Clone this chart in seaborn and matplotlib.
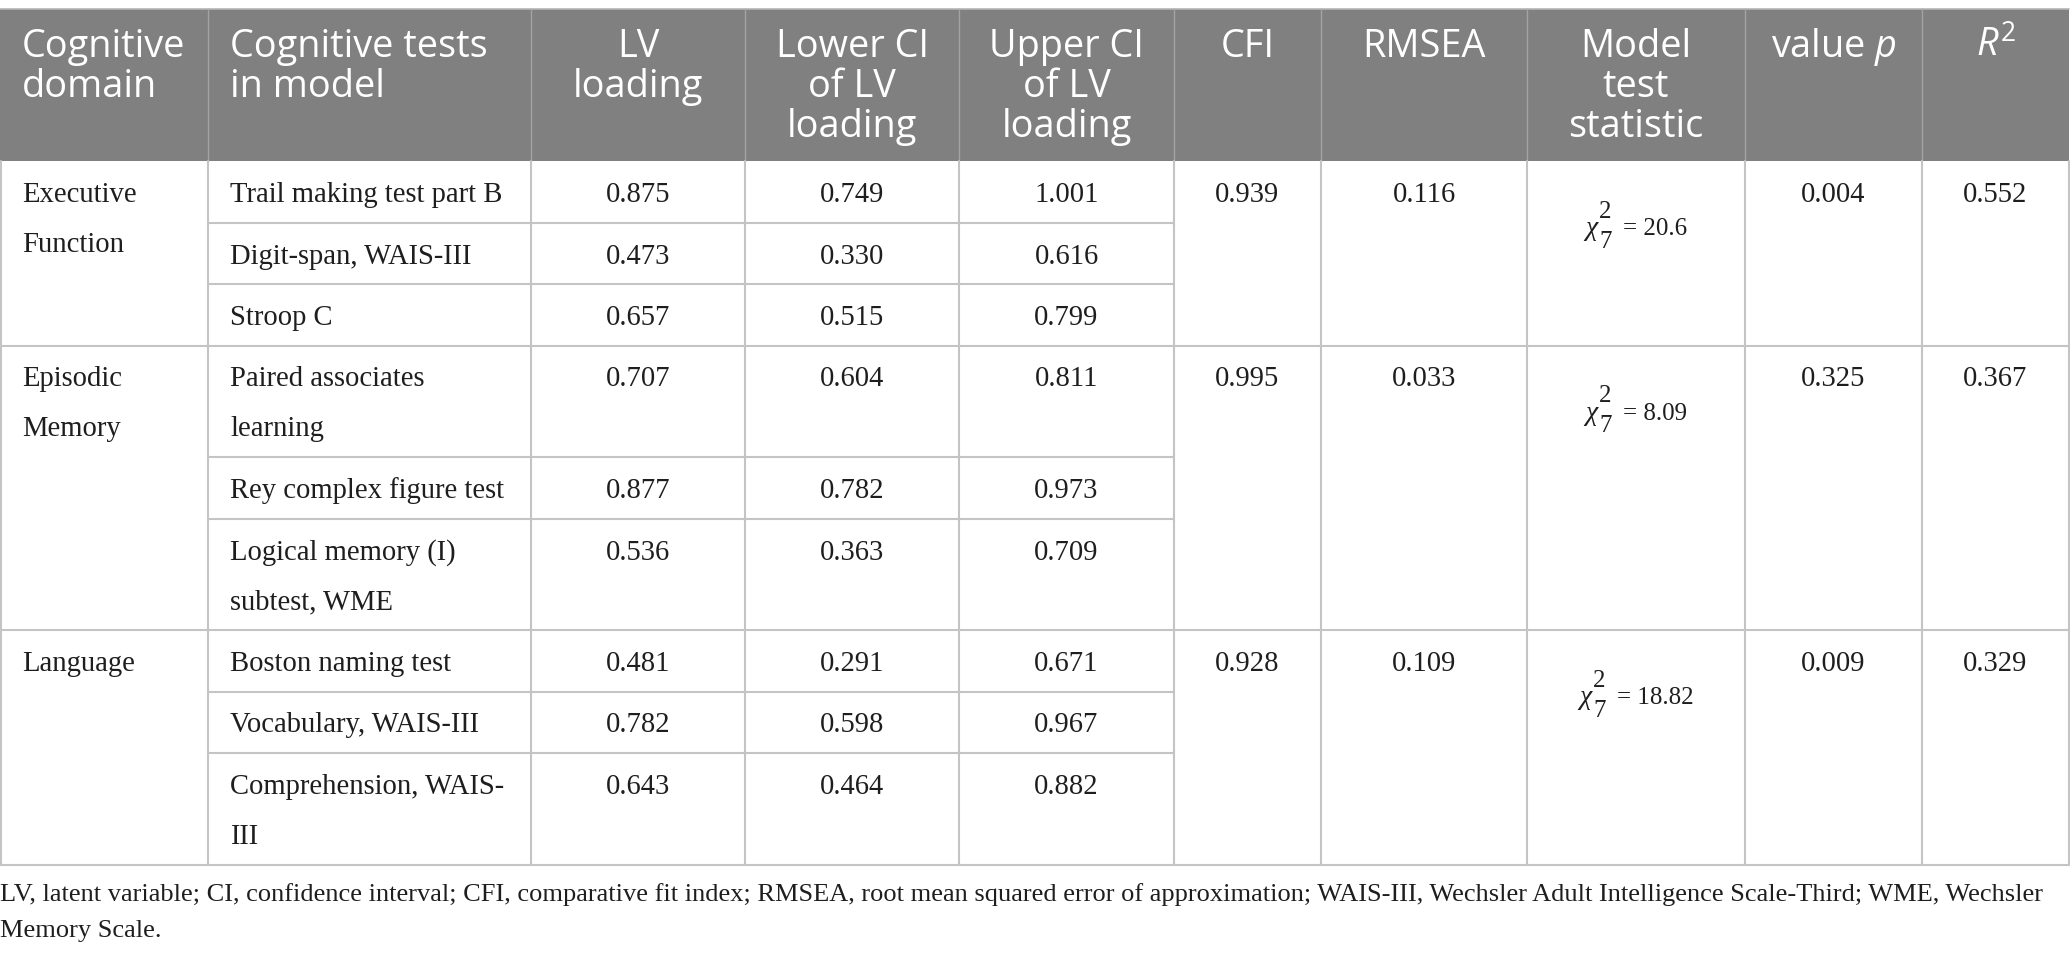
import matplotlib
matplotlib.use('Agg')
import matplotlib.pyplot as plt
import seaborn as sns

# Table content
headers = ['Cognitive\ndomain', 'Cognitive tests\nin model', 'LV\nloading',
           'Lower CI\nof LV\nloading', 'Upper CI\nof LV\nloading', 'CFI', 'RMSEA',
           'Model\ntest\nstatistic', 'value $p$', '$R^2$']
domains = ['Executive\nFunction', 'Episodic\nMemory', 'Language']
tests = [
    ['Trail making test part B', 'Digit-span, WAIS-III', 'Stroop C'],
    ['Paired associates\nlearning', 'Rey complex figure test', 'Logical memory (I)\nsubtest, WME'],
    ['Boston naming test', 'Vocabulary, WAIS-III', 'Comprehension, WAIS-\nIII'],
]
lv_loading = [[0.875, 0.473, 0.657], [0.707, 0.877, 0.536], [0.481, 0.782, 0.643]]
lower_ci = [[0.749, 0.330, 0.515], [0.604, 0.782, 0.363], [0.291, 0.598, 0.464]]
upper_ci = [[1.001, 0.616, 0.799], [0.811, 0.973, 0.709], [0.671, 0.967, 0.882]]
cfi = [0.939, 0.995, 0.928]
rmsea = [0.116, 0.033, 0.109]
chi_df = [7, 7, 7]
chi_stat = ['20.6', '8.09', '18.82']
p_value = [0.004, 0.325, 0.009]
r_squared = [0.552, 0.367, 0.329]
footnote = ['LV, latent variable; CI, confidence interval; CFI, comparative fit index; '
            'RMSEA, root mean squared error of approximation; WAIS-III, Wechsler Adult '
            'Intelligence Scale-Third; WME, Wechsler',
            'Memory Scale.']

sns.set_theme(style='white')
plt.rcParams['mathtext.fontset'] = 'custom'
plt.rcParams['mathtext.rm'] = 'Open Sans'
plt.rcParams['mathtext.it'] = 'Open Sans:italic'

# layout in pixels
W, H = 2070, 957
cols = [0, 208, 531, 745, 959, 1174, 1321, 1527, 1745, 1922, 2069]
head_top, head_bot = 9, 161
pad = 22
base_h, line_h = 61.5, 50

HEAD_BG = '#7f807f'
GRID = '#c4c4c4'
TXT = '#1e1e1e'
serif = 'Liberation Serif'
BODY_SIZE = 20.6

fig = plt.figure(figsize=(W / 100, H / 100), dpi=100)
ax = fig.add_axes([0, 0, 1, 1])
ax.set_xlim(0, W)
ax.set_ylim(H, 0)
ax.axis('off')
renderer = fig.canvas.get_renderer()

# header
ax.add_patch(plt.Rectangle((cols[0], head_top), cols[-1] - cols[0], head_bot - head_top,
                           facecolor=HEAD_BG, edgecolor='none'))
ax.plot([cols[0], cols[-1]], [head_top, head_top], color='#b5b5b5', lw=1.2)
for c in cols[1:-1]:
    ax.plot([c, c], [head_top, head_bot], color='#a3a3a3', lw=1.0)
for i, h in enumerate(headers):
    if i < 2:
        x, ha = cols[i] + pad, 'left'
    else:
        x, ha = (cols[i] + cols[i + 1]) / 2, 'center'
    for k, line in enumerate(h.split('\n')):
        ax.text(x, head_top + 48 + 40 * k, line, ha=ha, va='baseline', color='white',
                fontsize=27.3, family='Open Sans', math_fontfamily='custom')


def nlines(s):
    return s.count('\n') + 1


def put(x, y, s, ha='center', size=BODY_SIZE):
    for k, line in enumerate(s.split('\n')):
        ax.text(x, y + line_h * k, line, ha=ha, va='baseline', color=TXT,
                fontsize=size, family=serif)


def width(t):
    return t.get_window_extent(renderer).width


def chi_square(xc, yb, df, stat):
    # chi with stacked super/subscript, then "= value", centred on xc
    size = 18
    chi = ax.text(0, yb, '\u03c7', fontsize=size + 2, family=serif, style='italic',
                  color=TXT, va='baseline')
    x = width(chi) + 2
    sup = ax.text(x, yb - 17, '2', fontsize=size, family=serif, color=TXT, va='baseline')
    sub = ax.text(x, yb + 13, str(df), fontsize=size, family=serif, color=TXT, va='baseline')
    x += max(width(sup), width(sub)) + 11
    rest = ax.text(x, yb, '= ' + stat, fontsize=size, family=serif, color=TXT, va='baseline')
    total = x + width(rest)
    for t in (chi, sup, sub, rest):
        t.set_x(t.get_position()[0] + xc - total / 2)


y = head_bot
for g in range(len(domains)):
    g_top = y
    put(cols[0] + pad, g_top + 41, domains[g], ha='left')
    for r, name in enumerate(tests[g]):
        rh = base_h + line_h * (nlines(name) - 1)
        put(cols[1] + pad, y + 41, name, ha='left')
        for ci, vals in zip([2, 3, 4], [lv_loading, lower_ci, upper_ci]):
            put((cols[ci] + cols[ci + 1]) / 2, y + 41, f'{vals[g][r]:.3f}')
        y += rh
        if r < len(tests[g]) - 1:
            ax.plot([cols[1], cols[5]], [y, y], color=GRID, lw=1.5)
    for ci, val in zip([5, 6, 8, 9], [cfi, rmsea, p_value, r_squared]):
        put((cols[ci] + cols[ci + 1]) / 2, g_top + 41, f'{val[g]:.3f}')
    chi_square((cols[7] + cols[8]) / 2, g_top + 74, chi_df[g], chi_stat[g])
    ax.plot([cols[0], cols[-1]], [y, y], color=GRID, lw=1.5)
    for c in cols[1:-1]:
        ax.plot([c, c], [g_top, y], color=GRID, lw=1.5)
    ax.plot([cols[0] + 0.8] * 2, [g_top, y], color=GRID, lw=1.5)
    ax.plot([cols[-1]] * 2, [g_top, y], color=GRID, lw=1.5)

# footnote
for k, line in enumerate(footnote):
    ax.text(0, y + 37 + 36 * k, line, ha='left', va='baseline', color=TXT,
            fontsize=19.0, family=serif)

fig.savefig('out.png', dpi=100)
